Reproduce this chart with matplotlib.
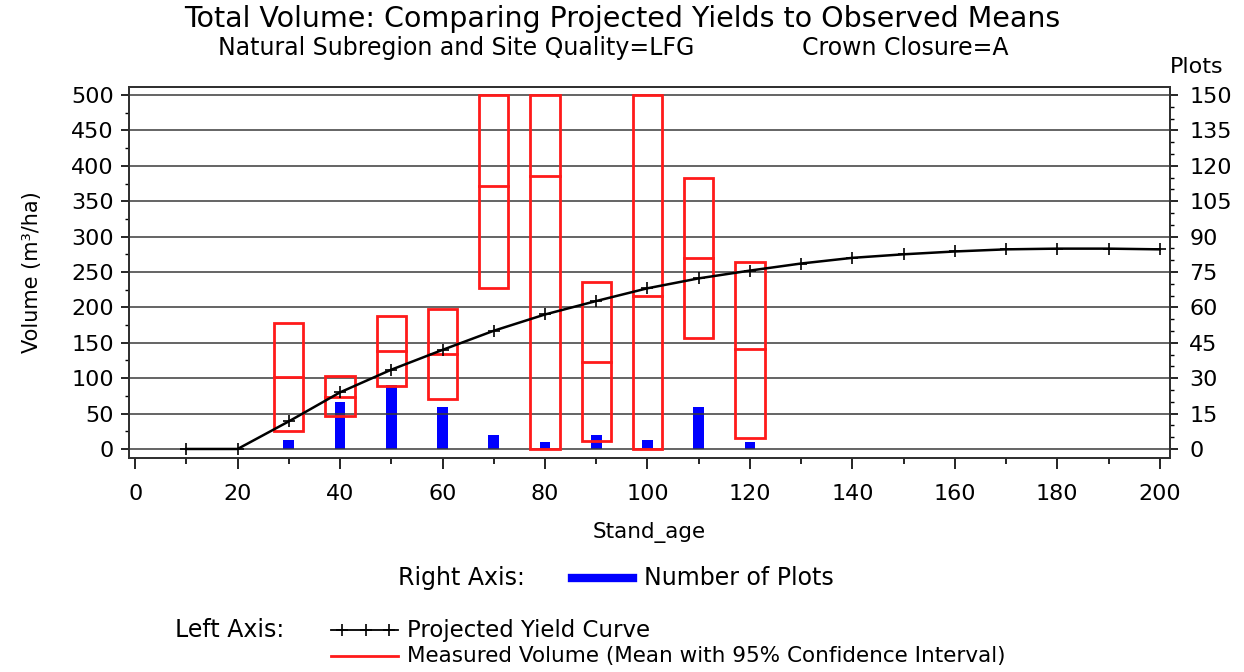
import matplotlib
matplotlib.use("Agg")
import matplotlib.pyplot as plt
from matplotlib.lines import Line2D
from matplotlib.patches import Rectangle
from matplotlib.ticker import MultipleLocator

plt.rcParams['font.family'] = ['DejaVu Sans']

# projected yield curve (left axis)
curve_age = [10, 20, 30, 40, 50, 60, 70, 80, 90, 100,
             110, 120, 130, 140, 150, 160, 170, 180, 190, 200]
curve_vol = [0, 0, 39, 80, 112, 140, 167, 190, 209, 227,
             241, 252, 262, 270, 275, 279, 282, 283, 283, 282]

# measured volume: mean with 95% CI (left axis)
meas_age = [30, 40, 50, 60, 70, 80, 90, 100, 110, 120]
meas_mean = [101, 74, 138, 134, 372, 386, 123, 216, 270, 141]
meas_low = [25, 47, 89, 71, 228, 0, 11, 0, 157, 16]
meas_high = [178, 103, 188, 198, 500, 500, 236, 500, 383, 264]

# number of plots (right axis)
plot_count = [4, 20, 27, 18, 6, 3, 6, 4, 18, 3]

fig = plt.figure(figsize=(12.44, 6.72), dpi=100)
ax = fig.add_axes([0.1037, 0.3185, 0.8368, 0.552])
ax2 = ax.twinx()

red = '#ff1a1a'
box_w = 5.7

ax.set_xlim(-1.2, 202)
ax.set_ylim(-12.7, 511.3)
ax2.set_ylim(-12.7 * 0.3, 511.3 * 0.3)

for y in range(0, 501, 50):
    ax.axhline(y, color='#3a3a3a', lw=1.1, zorder=1)

for a, lo, hi, m in zip(meas_age, meas_low, meas_high, meas_mean):
    ax.add_patch(Rectangle((a - box_w / 2, lo), box_w, hi - lo, fill=False,
                           edgecolor=red, lw=2.0, zorder=3))
    ax.plot([a - box_w / 2, a + box_w / 2], [m, m], color=red, lw=2.0, zorder=3)

ax.plot(curve_age, curve_vol, color='black', lw=1.8, marker='+',
        markersize=8, markeredgewidth=1.2, zorder=4)

ax2.bar(meas_age, plot_count, width=2.1, color='#0000ff', zorder=2)
ax.set_zorder(ax2.get_zorder() + 1)
ax.patch.set_visible(False)

# ticks
ax.xaxis.set_major_locator(MultipleLocator(20))
ax.xaxis.set_minor_locator(MultipleLocator(10))
ax.yaxis.set_major_locator(MultipleLocator(50))
ax.yaxis.set_minor_locator(MultipleLocator(25))
ax2.yaxis.set_major_locator(MultipleLocator(15))
ax2.yaxis.set_minor_locator(MultipleLocator(5))
ax.set_yticks(range(0, 501, 50))
ax2.set_yticks(range(0, 151, 15))

ax.tick_params(axis='x', which='major', length=8, width=1.2, pad=11, labelsize=16)
ax.tick_params(axis='x', which='minor', length=4, width=1.2)
ax.tick_params(axis='y', which='major', length=6, width=1.2, pad=5, labelsize=16)
ax.tick_params(axis='y', which='minor', length=3, width=1.0)
ax2.tick_params(axis='y', which='major', length=6, width=1.2, pad=8, labelsize=16)
ax2.tick_params(axis='y', which='minor', length=3, width=1.0)

for a in (ax, ax2):
    for s in a.spines.values():
        s.set_linewidth(1.3)
        s.set_color('#303030')

ax.set_xlabel('Stand_age', fontsize=15.5, labelpad=13)
ax.set_ylabel('Volume (m³/ha)', fontsize=15, labelpad=21)
fig.text(0.962, 0.9, 'Plots', fontsize=16, ha='center', va='center')

fig.text(0.5, 0.972, 'Total Volume: Comparing Projected Yields to Observed Means',
         fontsize=20.5, ha='center', va='center')
fig.text(0.175, 0.928, 'Natural Subregion and Site Quality=LFG',
         fontsize=17, ha='left', va='center')
fig.text(0.645, 0.928, 'Crown Closure=A',
         fontsize=17, ha='left', va='center')

# legend block
fig.text(0.32, 0.140, 'Right Axis:', fontsize=17, va='center')
fig.add_artist(Line2D([0.46, 0.509], [0.140, 0.140], color='#0000ff', lw=6,
                      transform=fig.transFigure))
fig.text(0.518, 0.140, 'Number of Plots', fontsize=17, va='center')

fig.text(0.141, 0.062, 'Left Axis:', fontsize=17, va='center')
fig.add_artist(Line2D([0.266, 0.32], [0.062, 0.062], color='black', lw=1.3,
                      transform=fig.transFigure))
fig.add_artist(Line2D([0.275, 0.294, 0.313], [0.062] * 3, color='black', lw=0,
                      marker='+', markersize=8, markeredgewidth=1.2,
                      transform=fig.transFigure))
fig.text(0.327, 0.062, 'Projected Yield Curve', fontsize=16.5, va='center')
fig.add_artist(Line2D([0.266, 0.32], [0.024, 0.024], color=red, lw=2,
                      transform=fig.transFigure))
fig.text(0.327, 0.024, 'Measured Volume (Mean with 95% Confidence Interval)',
         fontsize=15.5, va='center')

fig.savefig('out.png', dpi=100)
